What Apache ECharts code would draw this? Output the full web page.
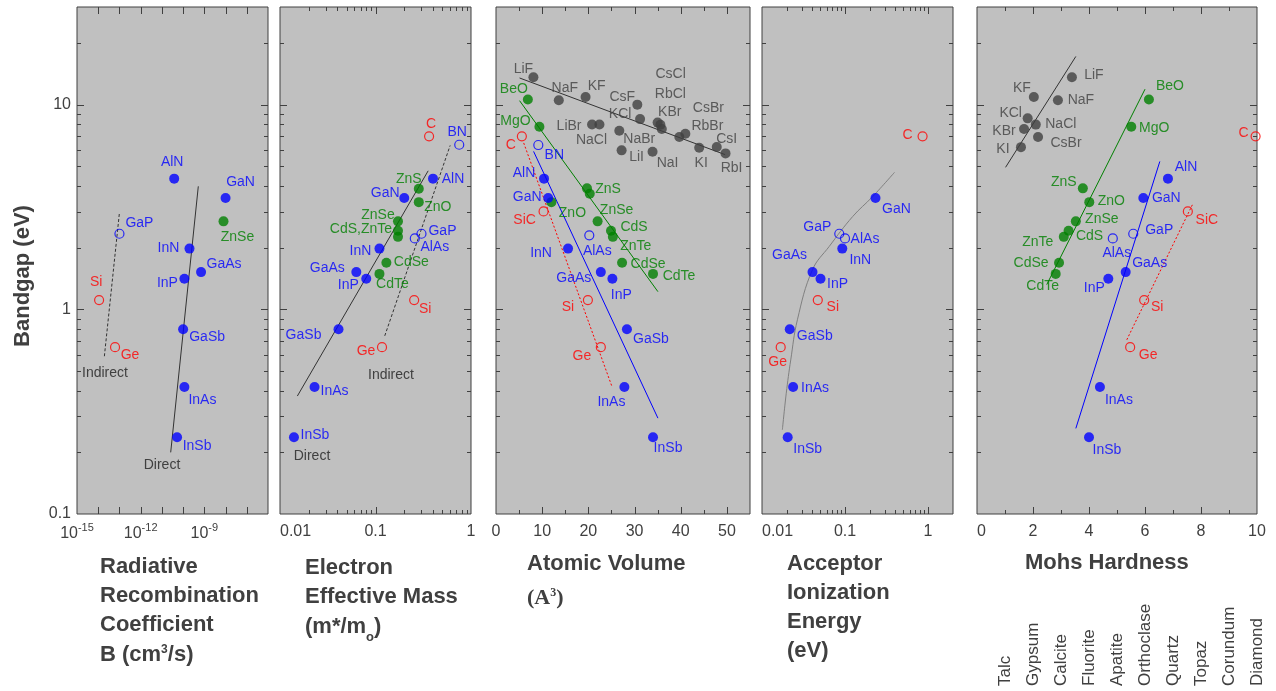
<!DOCTYPE html>
<html>
<head>
<meta charset="utf-8">
<title>Bandgap correlations</title>
<script src="https://cdn.jsdelivr.net/npm/echarts@6/dist/echarts.min.js"></script>
<style>
  html, body { margin: 0; padding: 0; background: #fff; }
  #chart { width: 1276px; height: 691px; }
</style>
</head>
<body>
<div id="chart"></div>
<script>
// ---------- data: [label, x, bandgap (eV)] ----------
// panel 1 : radiative recombination coefficient B (cm3/s)
var radDirect = [
  ['AlN', 3.8e-11, 4.35], ['GaN', 1.0e-8, 3.5], ['InN', 2.0e-10, 1.98],
  ['GaAs', 7.0e-10, 1.52], ['InP', 1.15e-10, 1.41], ['GaSb', 1.0e-10, 0.80],
  ['InAs', 1.15e-10, 0.417], ['InSb', 5.2e-11, 0.237]
];
var radGreen = [['ZnSe', 8e-9, 2.69]];
var radHollowBlue = [['GaP', 1e-13, 2.34]];
var radHollowRed = [['Si', 1.1e-14, 1.11], ['Ge', 6.2e-14, 0.653]];
var radDirectFit = [[2.6e-11, 0.2], [5.2e-10, 3.99]];
var radIndirectFit = [[1.95e-14, 0.59], [1e-13, 2.97]];
var radTickExp = [-15, -12, -9];

// panel 2 : electron effective mass (m*/mo)
var massBlue = [
  ['AlN', 0.40, 4.35], ['GaN', 0.20, 3.5], ['InN', 0.11, 1.98], ['GaAs', 0.063, 1.52],
  ['InP', 0.08, 1.41], ['GaSb', 0.041, 0.80], ['InAs', 0.023, 0.417], ['InSb', 0.014, 0.237]
];
var massHollowBlue = [['BN', 0.753, 6.37], ['GaP', 0.303, 2.34], ['AlAs', 0.258, 2.22]];
var massGreen = [
  ['ZnS', 0.284, 3.88], ['ZnO', 0.284, 3.34], ['ZnSe', 0.172, 2.69], ['CdS,ZnTe', 0.172, 2.42],
  ['', 0.172, 2.26], ['CdSe', 0.13, 1.69], ['CdTe', 0.11, 1.49]
];
var massHollowRed = [['C', 0.364, 7.0], ['Si', 0.254, 1.11], ['Ge', 0.117, 0.653]];
var massDirectFit = [[0.0152, 0.377], [0.356, 4.75]];
var massIndirectFit = [[0.125, 0.742], [0.605, 6.32]];

// panel 3 : atomic volume (A^3)
var volIonic = [
  ['LiF', 8.1, 13.6], ['NaF', 13.6, 10.5], ['KF', 19.4, 10.9], ['CsF', 30.6, 10.0],
  ['KCl', 31.2, 8.5], ['LiBr', 20.8, 8.0], ['NaCl', 22.4, 8.0], ['CsCl', 35.0, 8.17],
  ['RbCl', 35.6, 7.98], ['KBr', 35.9, 7.6], ['NaBr', 26.7, 7.46], ['LiI', 27.2, 5.98],
  ['NaI', 33.9, 5.89], ['RbBr', 39.7, 6.95], ['CsBr', 41.0, 7.21], ['KI', 44.0, 6.16],
  ['CsI', 47.8, 6.21], ['RbI', 49.7, 5.78]
];
var volGreen = [
  ['BeO', 6.9, 10.6], ['MgO', 9.4, 7.8], ['ZnO', 12.0, 3.34], ['ZnS', 19.7, 3.9],
  ['', 20.3, 3.67], ['ZnSe', 22.0, 2.69], ['CdS', 24.9, 2.42], ['ZnTe', 25.3, 2.26],
  ['CdSe', 27.3, 1.69], ['CdTe', 34.0, 1.49]
];
var volBlue = [
  ['AlN', 10.4, 4.35], ['GaN', 11.3, 3.5], ['InN', 15.6, 1.98], ['GaAs', 22.7, 1.52],
  ['InP', 25.2, 1.41], ['GaSb', 28.35, 0.80], ['InAs', 27.8, 0.417], ['InSb', 34.0, 0.237]
];
var volHollowBlue = [['BN', 9.16, 6.35], ['AlAs', 20.2, 2.3]];
var volHollowRed = [['C', 5.6, 7.0], ['SiC', 10.3, 3.01], ['Si', 19.9, 1.11], ['Ge', 22.7, 0.653]];
var volIonicFit = [[5.1, 13.5], [49.6, 5.7]];
var volGreenFit = [[5.1, 10.46], [35.06, 1.22]];
var volBlueFit = [[8.14, 5.91], [35.06, 0.294]];
var volRedFit = [[6.0, 6.5], [25.1, 0.42]];

// panel 4 : acceptor ionization energy (eV)
var accBlue = [
  ['GaN', 0.233, 3.5], ['InN', 0.0927, 1.98], ['GaAs', 0.0406, 1.52], ['InP', 0.0507, 1.41],
  ['GaSb', 0.0216, 0.80], ['InAs', 0.0237, 0.417], ['InSb', 0.0204, 0.237]
];
var accHollowBlue = [['GaP', 0.0853, 2.34], ['AlAs', 0.1, 2.22]];
var accHollowRed = [['C', 0.86, 7.0], ['Si', 0.047, 1.11], ['Ge', 0.0168, 0.653]];
var accFit = [
  [0.0176, 0.258], [0.0196, 0.389], [0.0222, 0.566], [0.0267, 0.889], [0.0405, 1.56],
  [0.0646, 2.03], [0.1237, 2.84], [0.216, 3.56], [0.395, 4.67]
];

// panel 5 : Mohs hardness
var mohsIonic = [
  ['LiF', 3.39, 13.6], ['KF', 2.03, 10.9], ['NaF', 2.89, 10.5], ['KCl', 1.81, 8.57],
  ['NaCl', 2.10, 7.99], ['KBr', 1.68, 7.6], ['CsBr', 2.18, 6.95], ['KI', 1.57, 6.2]
];
var mohsGreen = [
  ['BeO', 6.14, 10.6], ['MgO', 5.51, 7.8], ['ZnS', 3.78, 3.9], ['ZnO', 4.01, 3.34],
  ['ZnSe', 3.53, 2.69], ['CdS', 3.27, 2.42], ['ZnTe', 3.10, 2.26], ['CdSe', 2.93, 1.69],
  ['CdTe', 2.81, 1.49]
];
var mohsBlue = [
  ['AlN', 6.82, 4.35], ['GaN', 5.94, 3.5], ['GaAs', 5.31, 1.52], ['InP', 4.69, 1.41],
  ['InAs', 4.39, 0.417], ['InSb', 4.0, 0.237]
];
var mohsHollowBlue = [['GaP', 5.58, 2.34], ['AlAs', 4.85, 2.22]];
var mohsHollowRed = [['C', 9.95, 7.0], ['SiC', 7.53, 3.01], ['Si', 5.97, 1.11], ['Ge', 5.47, 0.653]];
var mohsIonicFit = [[1.02, 4.94], [3.53, 17.2]];
var mohsGreenFit = [[2.49, 1.32], [6.0, 11.9]];
var mohsBlueFit = [[3.53, 0.262], [6.53, 5.28]];
var mohsRedFit = [[5.35, 0.71], [7.71, 3.28]];
var mohsMinerals = ['Talc', 'Gypsum', 'Calcite', 'Fluorite', 'Apatite', 'Orthoclase', 'Quartz', 'Topaz', 'Corundum', 'Diamond'];

// ---------- tick marks (axis values; drawn inward on all four sides) ----------
var yMajorTicks = [1, 10];
var yMinorTicks = [0.2, 0.3, 0.4, 0.5, 0.6, 0.7, 0.8, 0.9, 2, 3, 4, 5, 6, 7, 8, 9, 20];
var xMajorTicks = [
  [-14, -13, -12, -11, -10, -9, -8, -7],
  [0.1],
  [10, 20, 30, 40, 50],
  [0.1, 1],
  [2, 4, 6, 8]
];
var xMinorTicks = [
  [],
  [0.02, 0.03, 0.04, 0.05, 0.06, 0.07, 0.08, 0.09, 0.2, 0.3, 0.4, 0.5, 0.6, 0.7, 0.8, 0.9],
  [5, 15, 25, 35, 45],
  [0.02, 0.03, 0.04, 0.05, 0.06, 0.07, 0.08, 0.09, 0.2, 0.3, 0.4, 0.5, 0.6, 0.7, 0.8, 0.9],
  [1, 3, 5, 7, 9]
];

// ---------- label offsets (px from the marker centre) ----------
var radLabelAt = {
  AlN: [-2, -17], GaN: [15, -16], ZnSe: [14, 16], GaP: [20, -11], InN: [-21, 0], GaAs: [23, -8],
  InP: [-17, 4], Si: [-3, -18], GaSb: [24, 8], Ge: [15, 8], InAs: [18, 13], InSb: [20, 9]
};
var massLabelAt = {
  C: [2, -12], BN: [-2, -13], AlN: [20, 0], ZnS: [-10, -10], GaN: [-19, -5], ZnO: [19, 5],
  ZnSe: [-20, -6], 'CdS,ZnTe': [-37, -2], GaP: [21, -3], AlAs: [20, 9], InN: [-19, 3],
  CdSe: [25, -1], GaAs: [-29, -4], InP: [-18, 6], CdTe: [13, 10], Si: [11, 9], GaSb: [-35, 6],
  Ge: [-16, 4], InAs: [20, 4], InSb: [21, -2]
};
var volLabelAt = {
  LiF: [-10, -8], NaF: [6, -12], KF: [11, -11], CsF: [-15, -8], KCl: [-20, -5], LiBr: [-23, 2],
  NaCl: [-8, 16], CsCl: [13, -48], RbCl: [10, -31], KBr: [8, -17], NaBr: [20, 8], LiI: [15, 7],
  NaI: [15, 11], CsBr: [23, -26], RbBr: [28, -11], KI: [2, 15], CsI: [10, -8], RbI: [6, 15],
  BeO: [-14, -10], MgO: [-24, -6], ZnS: [21, 1], ZnO: [21, 11], ZnSe: [19, -11], CdS: [23, -4],
  ZnTe: [23, 9], CdSe: [26, 1], CdTe: [26, 2], BN: [16, 10], AlN: [-20, -6], GaN: [-21, -1],
  InN: [-27, 5], AlAs: [8, 16], GaAs: [-27, 6], InP: [9, 16], GaSb: [24, 10], InAs: [-13, 15],
  InSb: [15, 11], C: [-11, 9], SiC: [-19, 9], Si: [-20, 7], Ge: [-19, 9]
};
var accLabelAt = {
  C: [-15, -1], GaN: [21, 11], GaP: [-22, -7], AlAs: [20, 1], InN: [18, 12], GaAs: [-23, -17],
  InP: [17, 5], Si: [15, 7], GaSb: [25, 7], Ge: [-3, 15], InAs: [22, 1], InSb: [20, 12]
};
var mohsLabelAt = {
  LiF: [22, -2], KF: [-12, -9], NaF: [23, 0], KCl: [-17, -5], NaCl: [25, 0], KBr: [-20, 2],
  CsBr: [28, 6], KI: [-18, 2], BeO: [21, -13], MgO: [23, 1], ZnS: [-19, -6], ZnO: [22, -1],
  ZnSe: [26, -2], CdS: [21, 5], ZnTe: [-26, 5], CdSe: [-28, 0], CdTe: [-13, 12], AlN: [18, -12],
  GaN: [23, 0], GaP: [26, -4], AlAs: [4, 15], GaAs: [24, -9], InP: [-14, 9], InAs: [19, 13],
  InSb: [18, 13], C: [-12, -3], SiC: [19, 9], Si: [13, 7], Ge: [18, 8]
};

// ---------- styling ----------
var FONT = '"Liberation Sans", Arial, Helvetica, sans-serif';
var BLUE = '#0000ff', GREEN = '#008000', RED = '#ff0000', DARK = '#404040', FITGRAY = '#808080';
var Y_MIN = 0.1, Y_MAX = 30;
var panels = [
  { left: 77, width: 191 },
  { left: 280, width: 191 },
  { left: 496, width: 254 },
  { left: 762, width: 191 },
  { left: 977, width: 280 }
];

function log10(v) { return Math.log(v) / Math.LN10; }

function labelled(arr, offsets, toX) {
  return arr.map(function (d) {
    return {
      name: d[0],
      value: [toX ? toX(d[1]) : d[1], d[2]],
      label: { show: d[0] !== '', offset: offsets[d[0]] || [16, 0] }
    };
  });
}

function dots(p, items, color, hollow) {
  return {
    type: 'scatter', xAxisIndex: p * 2, yAxisIndex: p * 2, data: items,
    symbol: 'circle', symbolSize: hollow ? 9 : 10,
    itemStyle: hollow ? { color: 'rgba(0,0,0,0)', borderColor: color, borderWidth: 1.2 } : { color: color },
    label: {
      show: true, position: 'inside', formatter: '{b}', color: color,
      fontSize: 14, fontFamily: FONT, textBorderWidth: 0, textBorderColor: 'transparent'
    },
    silent: true, z: 3
  };
}

function fit(p, pts, color, dash, smooth, toX) {
  return {
    type: 'line', xAxisIndex: p * 2, yAxisIndex: p * 2, symbol: 'none',
    data: pts.map(function (d) { return [toX ? toX(d[0]) : d[0], d[1]]; }),
    smooth: smooth || false,
    lineStyle: { color: color, width: 1, type: dash || 'solid' },
    silent: true, z: 2
  };
}

function crisp(v) { return Math.round(v) + 0.5; }

// inward tick marks on the four edges of a panel, placed through the panel's axes
function ticks(p, xRange, xMaj, xMin) {
  var data = [];
  xMaj.forEach(function (v) { data.push([v, 0, 7]); });
  xMin.forEach(function (v) { data.push([v, 0, 4]); });
  yMajorTicks.forEach(function (v) { data.push([v, 1, 7]); });
  yMinorTicks.forEach(function (v) { data.push([v, 1, 4]); });
  return {
    type: 'custom', xAxisIndex: p * 2, yAxisIndex: p * 2, clip: false, silent: true, z: 4,
    data: data,
    encode: { x: -1, y: -1 },
    renderItem: function (params, api) {
      var v = api.value(0), isY = api.value(1) === 1, len = api.value(2);
      var a, b, segs;
      if (isY) {
        a = api.coord([xRange[0], v]);
        b = api.coord([xRange[1], v]);
        var y = crisp(a[1]);
        segs = [[a[0], y, a[0] + len, y], [b[0], y, b[0] - len, y]];
      } else {
        a = api.coord([v, Y_MIN]);
        b = api.coord([v, Y_MAX]);
        var x = crisp(a[0]);
        segs = [[x, a[1], x, a[1] - len], [x, b[1], x, b[1] + len]];
      }
      return {
        type: 'group',
        children: segs.map(function (s) {
          return { type: 'line', shape: { x1: s[0], y1: s[1], x2: s[2], y2: s[3] }, style: { stroke: DARK, lineWidth: 1 } };
        })
      };
    }
  };
}

function merge(a, extra) {
  for (var k in extra) {
    if (a[k] && typeof a[k] === 'object' && !Array.isArray(a[k]) && typeof extra[k] === 'object' && !Array.isArray(extra[k])) {
      a[k] = Object.assign({}, a[k], extra[k]);
    } else {
      a[k] = extra[k];
    }
  }
  return a;
}

function axis(g, pos, showLabel, extra) {
  return merge({
    gridIndex: g, position: pos,
    axisLine: { show: false },
    axisTick: { show: false },
    minorTick: { show: false },
    splitLine: { show: false },
    minorSplitLine: { show: false },
    axisLabel: { show: showLabel, color: DARK, fontSize: 16, fontFamily: FONT, margin: 10 }
  }, extra);
}

var xSpecs = [
  { type: 'value', min: -15, max: -6, interval: 1,
    axisLabel: {
      margin: 8,
      formatter: function (v) { return radTickExp.indexOf(v) >= 0 ? '{base|10}{sup|' + v + '}' : ''; },
      rich: {
        base: { fontSize: 16, lineHeight: 24, color: DARK, fontFamily: FONT },
        sup: { fontSize: 11, lineHeight: 11, verticalAlign: 'top', color: DARK, fontFamily: FONT }
      }
    } },
  { type: 'log', min: 0.01, max: 1, axisLabel: { alignMinLabel: 'left' } },
  { type: 'value', min: 0, max: 55, interval: 10, axisLabel: { showMaxLabel: false } },
  { type: 'log', min: 0.01, max: 2, axisLabel: { alignMinLabel: 'left', showMaxLabel: false } },
  { type: 'value', min: 0, max: 10, interval: 2, axisLabel: { alignMinLabel: 'left' } }
];
var ySpec = { type: 'log', min: Y_MIN, max: Y_MAX, axisLabel: { showMaxLabel: false, margin: 6 } };

var grids = [], xAxes = [], yAxes = [];
panels.forEach(function (p, g) {
  grids.push({
    left: p.left, top: 7, width: p.width, height: 507, show: true,
    backgroundColor: '#c0c0c0', borderColor: DARK, borderWidth: 1, outerBoundsMode: 'none'
  });
  xAxes.push(axis(g, 'bottom', true, JSON.parse(JSON.stringify(xSpecs[g]))));
  if (g === 0) xAxes[0].axisLabel.formatter = xSpecs[0].axisLabel.formatter;
  xAxes.push(axis(g, 'top', false, merge(JSON.parse(JSON.stringify(xSpecs[g])), { axisLabel: { show: false } })));
  yAxes.push(axis(g, 'left', g === 0, JSON.parse(JSON.stringify(ySpec))));
  yAxes.push(axis(g, 'right', false, merge(JSON.parse(JSON.stringify(ySpec)), { axisLabel: { show: false } })));
});

var series = [
  // panel 1
  fit(0, radDirectFit, '#333333', 'solid', false, log10),
  fit(0, radIndirectFit, '#333333', [3, 2], false, log10),
  dots(0, labelled(radDirect, radLabelAt, log10), BLUE),
  dots(0, labelled(radGreen, radLabelAt, log10), GREEN),
  dots(0, labelled(radHollowBlue, radLabelAt, log10), BLUE, true),
  dots(0, labelled(radHollowRed, radLabelAt, log10), RED, true),
  // panel 2
  fit(1, massDirectFit, '#333333'),
  fit(1, massIndirectFit, '#333333', [3, 2]),
  dots(1, labelled(massBlue, massLabelAt), BLUE),
  dots(1, labelled(massGreen, massLabelAt), GREEN),
  dots(1, labelled(massHollowBlue, massLabelAt), BLUE, true),
  dots(1, labelled(massHollowRed, massLabelAt), RED, true),
  // panel 3
  fit(2, volIonicFit, '#333333'),
  fit(2, volGreenFit, GREEN),
  fit(2, volBlueFit, BLUE),
  fit(2, volRedFit, RED, [2, 2]),
  dots(2, labelled(volIonic, volLabelAt), DARK),
  dots(2, labelled(volGreen, volLabelAt), GREEN),
  dots(2, labelled(volBlue, volLabelAt), BLUE),
  dots(2, labelled(volHollowBlue, volLabelAt), BLUE, true),
  dots(2, labelled(volHollowRed, volLabelAt), RED, true),
  // panel 4
  fit(3, accFit, FITGRAY, 'solid', 0.4),
  dots(3, labelled(accBlue, accLabelAt), BLUE),
  dots(3, labelled(accHollowBlue, accLabelAt), BLUE, true),
  dots(3, labelled(accHollowRed, accLabelAt), RED, true),
  // panel 5
  fit(4, mohsIonicFit, '#333333'),
  fit(4, mohsGreenFit, GREEN),
  fit(4, mohsBlueFit, BLUE),
  fit(4, mohsRedFit, RED, [2, 2]),
  dots(4, labelled(mohsIonic, mohsLabelAt), DARK),
  dots(4, labelled(mohsGreen, mohsLabelAt), GREEN),
  dots(4, labelled(mohsBlue, mohsLabelAt), BLUE),
  dots(4, labelled(mohsHollowBlue, mohsLabelAt), BLUE, true),
  dots(4, labelled(mohsHollowRed, mohsLabelAt), RED, true)
];
panels.forEach(function (p, g) {
  series.push(ticks(g, [xSpecs[g].min, xSpecs[g].max], xMajorTicks[g], xMinorTicks[g]));
});

var chart = echarts.init(document.getElementById('chart'), null, { renderer: 'canvas' });
chart.setOption({
  animation: false,
  backgroundColor: '#ffffff',
  textStyle: { fontFamily: FONT },
  grid: grids,
  xAxis: xAxes,
  yAxis: yAxes,
  series: series
});

// ---------- titles and annotations ----------
var TB = { fontSize: 22, fontWeight: 'bold', fontFamily: FONT, fill: DARK, lineHeight: 22, verticalAlign: 'top' };
var SERIF = '"Liberation Serif", "Times New Roman", serif';
var titleRich = {
  t: TB,
  sup: { fontSize: 12, fontWeight: 'bold', fontFamily: FONT, fill: DARK, lineHeight: 12, verticalAlign: 'top' },
  sub: { fontSize: 13, fontWeight: 'bold', fontFamily: FONT, fill: DARK, verticalAlign: 'top', padding: [15, 0, 0, 0] },
  s: { fontSize: 22, fontWeight: 'bold', fontFamily: SERIF, fill: DARK, lineHeight: 22, verticalAlign: 'top' },
  ssup: { fontSize: 12, fontWeight: 'bold', fontFamily: SERIF, fill: DARK, lineHeight: 12, verticalAlign: 'top' }
};
var titleLines = [
  [100, 567, '{t|Radiative}'], [100, 596, '{t|Recombination}'], [100, 625, '{t|Coefficient}'],
  [100, 655, '{t|B (cm}{sup|3}{t|/s)}'],
  [305, 568, '{t|Electron}'], [305, 597, '{t|Effective Mass}'], [305, 627, '{t|(m*/m}{sub|o}{t|)}'],
  [527, 564, '{t|Atomic Volume}'], [527, 598, '{s|(A}{ssup|3}{s|)}'],
  [787, 564, '{t|Acceptor}'], [787, 593, '{t|Ionization}'], [787, 622, '{t|Energy}'], [787, 651, '{t|(eV)}'],
  [1025, 563, '{t|Mohs Hardness}']
];
var fitNotes = [['Indirect', 105, 373], ['Direct', 162, 465], ['Indirect', 391, 375], ['Direct', 312, 456]];

var graphics = [{
  type: 'text', x: 23, y: 276, rotation: Math.PI / 2, silent: true,
  style: { text: 'Bandgap (eV)', font: 'bold 22px ' + FONT, fill: DARK, textAlign: 'center', textVerticalAlign: 'middle' }
}];
titleLines.forEach(function (t) {
  graphics.push({
    type: 'text', x: t[0], y: t[1] - 11, silent: true,
    style: { text: t[2], rich: titleRich, font: 'bold 22px ' + FONT, fill: DARK, textAlign: 'left', textVerticalAlign: 'top' }
  });
});
fitNotes.forEach(function (n) {
  graphics.push({
    type: 'text', x: n[1], y: n[2], silent: true,
    style: { text: n[0], font: '14px ' + FONT, fill: DARK, textAlign: 'center', textVerticalAlign: 'middle' }
  });
});
mohsMinerals.forEach(function (name, i) {
  var px = chart.convertToPixel({ xAxisIndex: 8 }, i + 1);
  graphics.push({
    type: 'text', x: px, y: 686, rotation: Math.PI / 2, silent: true,
    style: { text: name, font: '17px ' + FONT, fill: DARK, textAlign: 'left', textVerticalAlign: 'middle' }
  });
});
chart.setOption({ graphic: graphics });
</script>
</body>
</html>
